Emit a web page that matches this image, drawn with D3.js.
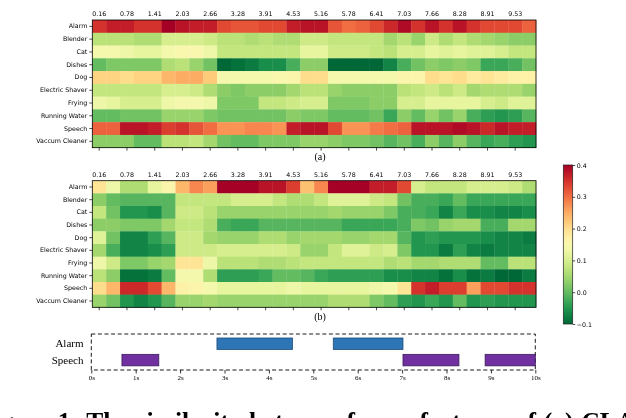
<!DOCTYPE html>
<html><head><meta charset="utf-8">
<script src="https://cdn.jsdelivr.net/npm/d3@7"></script>
<style>
html,body{margin:0;padding:0;background:#fff;overflow:hidden}
svg{display:block;will-change:transform}
</style></head>
<body>
<svg id="c" width="626" height="418"></svg>
<script>
// ---------- data ----------
const rowLabels = ["Alarm","Blender","Cat","Dishes","Dog","Electric Shaver","Frying","Running Water","Speech","Vaccum Cleaner"];
const tickLabels = ["0.16","0.78","1.41","2.03","2.66","3.28","3.91","4.53","5.16","5.78","6.41","7.03","7.66","8.28","8.91","9.53"];

// (a) similarity per frame
const alarmA   = [0.35,0.37,0.37,0.35,0.35,0.40,0.38,0.37,0.37,0.33,0.32,0.32,0.33,0.33,0.37,0.38,0.38,0.32,0.30,0.31,0.33,0.36,0.39,0.35,0.38,0.35,0.38,0.35,0.33,0.33,0.33,0.31];
const blenderA = [0.07,0.07,0.07,0.06,0.06,0.10,0.10,0.10,0.09,0.07,0.07,0.06,0.07,0.06,0.06,0.09,0.09,0.08,0.08,0.08,0.08,0.05,0.07,0.04,0.09,0.06,0.08,0.06,0.05,0.04,0.03,0.03];
const catA     = [0.14,0.14,0.13,0.12,0.12,0.14,0.15,0.15,0.13,0.08,0.08,0.08,0.08,0.08,0.08,0.12,0.12,0.09,0.09,0.09,0.08,0.07,0.10,0.10,0.12,0.11,0.12,0.11,0.11,0.10,0.08,0.08];
const dishesA  = [0.00,0.02,0.02,0.02,0.02,0.06,0.07,0.04,0.01,-0.10,-0.09,-0.08,-0.06,-0.06,-0.02,0.03,0.03,-0.10,-0.10,-0.10,-0.10,-0.07,-0.02,0.01,0.03,0.02,0.03,0.02,-0.03,-0.03,-0.02,0.01];
const dogA     = [0.21,0.21,0.20,0.21,0.21,0.24,0.25,0.25,0.22,0.14,0.14,0.14,0.14,0.15,0.16,0.20,0.20,0.14,0.14,0.14,0.14,0.14,0.16,0.16,0.20,0.19,0.20,0.18,0.19,0.18,0.17,0.17];
const shaverA  = [0.08,0.08,0.08,0.08,0.08,0.10,0.10,0.09,0.06,0.03,0.02,0.03,0.03,0.03,0.05,0.07,0.07,0.04,0.03,0.03,0.03,0.03,0.07,0.08,0.09,0.07,0.09,0.05,0.06,0.06,0.06,0.04];
const fryingA  = [0.13,0.12,0.10,0.10,0.10,0.13,0.14,0.14,0.13,0.02,0.02,0.02,0.08,0.08,0.09,0.10,0.10,0.02,0.02,0.02,0.03,0.03,0.10,0.10,0.12,0.12,0.12,0.12,0.10,0.09,0.11,0.11];
const waterA   = [0.00,0.00,0.01,0.01,0.01,0.04,0.04,0.04,0.02,0.01,0.01,0.01,0.01,0.01,0.03,0.02,0.02,0.00,0.00,0.00,0.01,-0.03,0.03,0.00,0.04,0.01,0.04,-0.02,-0.04,-0.05,-0.04,-0.01];
const speechA  = [0.31,0.31,0.38,0.38,0.37,0.34,0.35,0.32,0.30,0.27,0.27,0.28,0.28,0.27,0.37,0.38,0.38,0.33,0.27,0.27,0.29,0.30,0.31,0.38,0.38,0.38,0.39,0.38,0.36,0.38,0.37,0.37];
const vacuumA  = [0.03,0.03,0.03,0.00,0.00,0.07,0.07,0.08,0.05,0.01,0.00,0.00,0.02,0.02,0.02,0.04,0.04,0.03,0.02,0.02,0.01,-0.01,0.01,-0.02,0.03,-0.01,0.03,-0.01,-0.03,-0.02,-0.04,-0.05];

// (b) similarity per frame
const alarmB   = [0.19,0.13,0.06,0.06,0.12,0.16,0.24,0.28,0.26,0.40,0.40,0.40,0.38,0.38,0.34,0.23,0.28,0.40,0.40,0.40,0.37,0.37,0.33,0.10,0.08,0.08,0.08,0.10,0.10,0.10,0.09,0.06];
const blenderB = [0.03,0.00,-0.01,-0.01,-0.01,-0.01,0.08,0.08,0.08,0.08,0.10,0.10,0.10,0.08,0.06,0.06,0.08,0.11,0.11,0.11,0.09,0.08,0.01,-0.02,-0.02,-0.03,0.00,-0.03,-0.03,-0.03,-0.03,-0.03];
const catB     = [0.08,0.01,-0.05,-0.05,-0.06,-0.01,0.09,0.09,0.07,0.04,0.04,0.04,0.04,0.04,0.04,0.04,0.04,0.05,0.04,0.04,0.04,0.02,-0.02,-0.02,-0.03,-0.07,-0.03,-0.06,-0.06,-0.07,-0.07,-0.06];
const dishesB  = [0.03,0.03,0.02,0.02,0.02,0.05,0.08,0.08,0.06,-0.02,-0.03,-0.03,-0.01,-0.01,-0.01,-0.01,-0.01,-0.01,-0.03,-0.03,-0.03,-0.03,-0.02,0.02,0.01,0.04,0.05,0.05,-0.02,-0.02,0.05,0.05];
const dogB     = [0.11,0.01,-0.07,-0.07,-0.04,-0.01,0.09,0.09,0.05,0.04,0.04,0.04,0.06,0.06,0.04,0.05,0.05,0.05,0.04,0.04,0.05,0.05,-0.01,-0.05,-0.04,-0.05,-0.05,-0.05,-0.06,-0.07,-0.07,-0.08];
const shaverB  = [0.05,-0.02,-0.07,-0.07,-0.06,-0.04,0.09,0.09,0.09,0.10,0.10,0.10,0.10,0.10,0.09,0.04,0.04,0.08,0.11,0.11,0.09,0.10,0.02,-0.05,-0.05,-0.08,-0.04,-0.07,-0.08,-0.07,-0.07,-0.07];
const fryingB  = [0.13,0.09,0.02,0.02,0.04,0.05,0.19,0.19,0.13,0.07,0.07,0.07,0.06,0.06,0.07,0.08,0.08,0.08,0.08,0.08,0.08,0.06,0.07,0.05,0.05,0.06,0.06,0.06,0.00,0.00,0.07,0.07];
const waterB   = [0.07,0.03,-0.09,-0.09,-0.08,0.00,0.14,0.14,0.06,-0.04,-0.04,-0.04,-0.03,0.00,0.00,-0.01,-0.03,-0.04,-0.04,-0.04,-0.04,-0.06,-0.06,-0.07,-0.07,-0.09,-0.06,-0.09,-0.08,-0.10,-0.10,-0.08];
const speechB  = [0.20,0.24,0.36,0.36,0.33,0.24,0.17,0.16,0.14,0.12,0.12,0.12,0.12,0.12,0.13,0.12,0.12,0.12,0.12,0.12,0.13,0.14,0.19,0.35,0.37,0.34,0.34,0.26,0.33,0.33,0.35,0.35];
const vacuumB  = [0.04,0.01,-0.05,-0.07,-0.05,-0.01,0.04,0.04,0.05,0.04,0.04,0.04,0.04,0.04,0.04,0.04,0.04,0.06,0.06,0.06,0.02,0.00,-0.04,-0.05,-0.03,-0.05,0.00,-0.05,-0.04,-0.05,-0.05,-0.05];

const colorTicks = [-0.1, 0.0, 0.1, 0.2, 0.3, 0.4];

// ground-truth events (seconds)
const eventLabels = ["Alarm","Speech"];
const alarmEvents = [[2.83,4.53],[5.45,7.02]];
const speechEvents = [[0.69,1.52],[7.02,8.28],[8.87,10.0]];
const timeTicks = [0,1,2,3,4,5,6,7,8,9,10];

// ---------- drawing ----------
const svg = d3.select("#c");
const matA = [alarmA,blenderA,catA,dishesA,dogA,shaverA,fryingA,waterA,speechA,vacuumA];
const matB = [alarmB,blenderB,catB,dishesB,dogB,shaverB,fryingB,waterB,speechB,vacuumB];
const nCols = alarmA.length;
const cols = d3.range(nCols);

const color = d3.scaleSequential(t => d3.interpolateRdYlGn(1 - t)).domain([-0.1, 0.4]);
const x = d3.scaleBand().domain(cols).range([92.3, 536]);
const sans = "DejaVu Sans, sans-serif";
const serif = "Liberation Serif, Times New Roman, serif";

function heatmap(mat, top, bottom, label, labelY) {
  const y = d3.scaleBand().domain(rowLabels).range([top, bottom]);
  const g = svg.append("g");
  const cells = [];
  mat.forEach((row, r) => row.forEach((v, c) => cells.push({r: rowLabels[r], c, v})));
  g.selectAll("rect.cell").data(cells).join("rect")
    .attr("x", d => x(d.c)).attr("y", d => y(d.r))
    .attr("width", x.bandwidth() + 0.3).attr("height", y.bandwidth() + 0.3)
    .attr("fill", d => color(d.v));
  g.append("rect").attr("x", x.range()[0]).attr("y", top)
    .attr("width", x.range()[1] - x.range()[0]).attr("height", bottom - top)
    .attr("fill", "none").attr("stroke", "#000").attr("stroke-width", 0.8);

  const tickCols = cols.filter(c => c % 2 === 0);
  const ay = g.append("g").attr("transform", `translate(${x.range()[0]},0)`)
    .call(d3.axisLeft(y).tickSize(3).tickPadding(2));
  ay.select(".domain").remove();
  ay.selectAll("line").attr("stroke-width", 0.7);
  ay.selectAll("text").attr("font-family", sans).attr("font-size", 6.3).attr("fill", "#000");
  const at = g.append("g").attr("transform", `translate(0,${top})`)
    .call(d3.axisTop(x).tickValues(tickCols).tickFormat(c => tickLabels[c / 2]).tickSize(0).tickPadding(4));
  at.select(".domain").remove();
  at.selectAll("text").attr("font-family", sans).attr("font-size", 6.3).attr("fill", "#000");
  const ab = g.append("g").attr("transform", `translate(0,${bottom})`)
    .call(d3.axisBottom(x).tickValues(tickCols).tickFormat("").tickSize(3));
  ab.select(".domain").remove();
  ab.selectAll("line").attr("stroke-width", 0.7);

  svg.append("text").attr("x", 320).attr("y", labelY).attr("text-anchor", "middle")
    .attr("font-family", serif).attr("font-size", 10).text(label);
}

heatmap(matA, 20, 147.7, "(a)", 160);
heatmap(matB, 180.7, 307.3, "(b)", 319.5);

// colorbar
const cbX = 563.3, cbW = 9.4, cbTop = 165, cbBot = 324;
const cy = d3.scaleLinear().domain([-0.1, 0.4]).range([cbBot, cbTop]);
const defs = svg.append("defs");
const grad = defs.append("linearGradient").attr("id", "cbg").attr("x1", 0).attr("y1", 1).attr("x2", 0).attr("y2", 0);
d3.range(0, 1.0001, 0.05).forEach(t => {
  grad.append("stop").attr("offset", t).attr("stop-color", color(-0.1 + t * 0.5));
});
svg.append("rect").attr("x", cbX).attr("y", cbTop).attr("width", cbW).attr("height", cbBot - cbTop)
  .attr("fill", "url(#cbg)").attr("stroke", "#222").attr("stroke-width", 0.7);
const ac = svg.append("g").attr("transform", `translate(${cbX + cbW},0)`)
  .call(d3.axisRight(cy).tickValues(colorTicks).tickSize(2.5).tickPadding(1.5)
    .tickFormat(d => d3.format(".1f")(d).replace("-", "\u2212")));
ac.select(".domain").remove();
ac.selectAll("line").attr("stroke-width", 0.7);
ac.selectAll("text").attr("font-family", sans).attr("font-size", 6.3).attr("fill", "#000");

// timeline
const tx = d3.scaleLinear().domain([0, 10]).range([91.3, 535.3]);
const ty = d3.scaleBand().domain(eventLabels).range([336, 368]).paddingInner(0.1);
const tl = svg.append("g");
tl.append("rect").attr("x", tx(0)).attr("y", 334).attr("width", tx(10) - tx(0)).attr("height", 36)
  .attr("fill", "none").attr("stroke", "#000").attr("stroke-width", 0.9).attr("stroke-dasharray", "4,2.6");
tl.selectAll("rect.al").data(alarmEvents).join("rect")
  .attr("x", d => tx(d[0])).attr("width", d => tx(d[1]) - tx(d[0]))
  .attr("y", ty("Alarm") + 2).attr("height", 11.5)
  .attr("fill", "#2e75b6").attr("stroke", "#1f4e79").attr("stroke-width", 0.8);
tl.selectAll("rect.sp").data(speechEvents).join("rect")
  .attr("x", d => tx(d[0])).attr("width", d => tx(d[1]) - tx(d[0]))
  .attr("y", ty("Speech") + 1.5).attr("height", 11.5)
  .attr("fill", "#7030a0").attr("stroke", "#3b1a5a").attr("stroke-width", 0.8);
tl.selectAll("text.lab").data(eventLabels).join("text")
  .attr("x", 83.5).attr("y", d => ty(d) + ty.bandwidth() / 2 + 3.5).attr("text-anchor", "end")
  .attr("font-family", serif).attr("font-size", 11).text(d => d);
const axT = tl.append("g").attr("transform", "translate(0,370)")
  .call(d3.axisBottom(tx).tickValues(timeTicks).tickSize(3.5).tickPadding(2).tickFormat(d => d + "s"));
axT.select(".domain").remove();
axT.selectAll("line").attr("stroke-width", 0.8);
axT.selectAll("text").attr("font-family", serif).attr("font-size", 7).attr("fill", "#000");

// caption (cut by the page edge, as in the reference)
svg.append("text").attr("x", -22).attr("y", 430)
  .attr("font-family", serif).attr("font-weight", "bold").attr("font-size", 25.5)
  .attr("word-spacing", 1.5)
  .text("Figure 1: The similarity between frame features of (a) CLAP and (b) ours");
</script>
</body></html>
